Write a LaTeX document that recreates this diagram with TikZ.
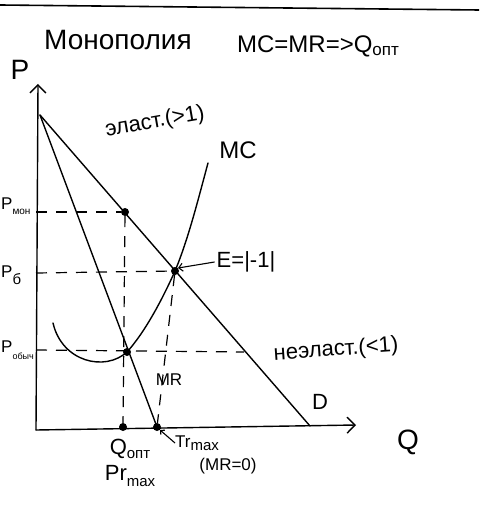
\documentclass[tikz,border=0pt]{standalone}
\usepackage{fontspec}
\setmainfont{Liberation Sans}
\usetikzlibrary{arrows.meta}
\begin{document}
\begin{tikzpicture}[x=1pt,y=-1pt,
  curve/.style={line width=1.4pt,line cap=round},
  dsh/.style={line width=1.2pt,dash pattern=on 11pt off 9pt},
  dot/.style={circle,fill=black,inner sep=0pt,minimum size=8pt},
  lbl/.style={inner sep=0pt,font=\fontsize{22}{24}\selectfont},
  sm/.style={inner sep=0pt,font=\fontsize{17}{19}\selectfont}]
\useasboundingbox (0,0) rectangle (479,526);
\fill[white] (0,0) rectangle (479,526);
% top edge line
\coordinate (tl) at (0,5);
\coordinate (tr) at (479,10);
\draw[line width=1.6pt] (tl) -- (tr);
% titles
\node[lbl,font=\fontsize{28}{30}\selectfont] (title) at (118,40) {Монополия};
\node[lbl,font=\fontsize{24}{26}\selectfont] (rule) at (318,46) {MC=MR=>Q\raisebox{-0.3ex}{\fontsize{17}{18}\selectfont опт}};
% axes
\coordinate (O) at (36,430);
\coordinate (Ptop) at (38,84);
\coordinate (Qend) at (356,425);
\draw[curve,-{Straight Barb[length=8pt,width=16pt]}] (O) -- (Ptop);
\draw[curve,-{Straight Barb[length=8pt,width=16pt]}] (O) -- (Qend);
\node[lbl,font=\fontsize{28}{30}\selectfont] (P) at (20,70) {P};
\node[lbl,font=\fontsize{28}{30}\selectfont] (Q) at (408,442) {Q};
% key points
\coordinate (A) at (40,115);
\coordinate (Dend) at (310,426);
\coordinate (MRend) at (157,427);
\node[dot] (Pmon) at (125,212) {};
\node[dot] (MCMR) at (127,352) {};
\node[dot] (E) at (175,271) {};
\node[dot] (Qopt) at (123,427) {};
\node[dot] (TR) at (157,427) {};
% demand and MR
\draw[curve] (A) -- (Dend);
\draw[curve] (A) -- (MRend);
% MC curve
\coordinate (MC0) at (53,323);
\coordinate (MCtop) at (208,163);
\draw[curve] (MC0) .. controls (62,362) and (105,372) .. (MCMR.center)
  .. controls (145,332) and (162,300) .. (E.center)
  .. controls (188,240) and (198,200) .. (MCtop);
% dashed guides
\coordinate (ymon) at (36,212);
\coordinate (yb) at (36,273);
\coordinate (yo) at (36,350);
\coordinate (Dob) at (244,352);
\draw[dsh] (ymon) -- (Pmon);
\draw[dsh] (yb) -- (E);
\draw[dsh] (yo) -- (Dob);
\draw[dsh] (Pmon) -- (Qopt);
\draw[dsh] (E) -- (TR);
% labels
\node[lbl,font=\fontsize{24}{26}\selectfont] (MClbl) at (238,150) {MC};
\node[lbl,rotate=10] (elast) at (155,122) {эласт.(>1)};
\node[lbl,rotate=4] (inelast) at (336,350) {неэласт.(<1)};
\node[lbl] (Elbl) at (246,262) {E=|-1|};
\draw[line width=1.1pt,-{Straight Barb[length=4pt,width=8pt]}] (Elbl.west) ++(-2,0) -- (E.north east);
\node[sm] (MRlbl) at (169,380) {MR};
\node[lbl] (Dlbl) at (320,402) {D};
\node[sm,anchor=west] (pmonl) at (1,206) {P\raisebox{-0.5ex}{\fontsize{10}{12}\selectfont мон}};
\node[sm,anchor=west] (pbl) at (1,275) {P\raisebox{-0.8ex}{\fontsize{15}{16}\selectfont б}};
\node[sm,anchor=west] (pol) at (1,350) {P\raisebox{-0.8ex}{\fontsize{9}{10}\selectfont обыч}};
\node[lbl] (Qoptl) at (130,449) {Q\raisebox{-0.3ex}{\fontsize{15}{16}\selectfont опт}};
\node[lbl] (Prmax) at (130,476) {Pr\raisebox{-0.5ex}{\fontsize{15}{16}\selectfont max}};
\node[sm,anchor=west] (Trmax) at (175,443) {Tr\raisebox{-0.3ex}{\fontsize{15}{16}\selectfont max}};
\node[sm] (mr0) at (228,466) {(MR=0)};
\draw[line width=1.1pt,-{Straight Barb[length=3pt,width=6pt]}] (Trmax.west) -- (TR.south east);
\end{tikzpicture}
\end{document}
